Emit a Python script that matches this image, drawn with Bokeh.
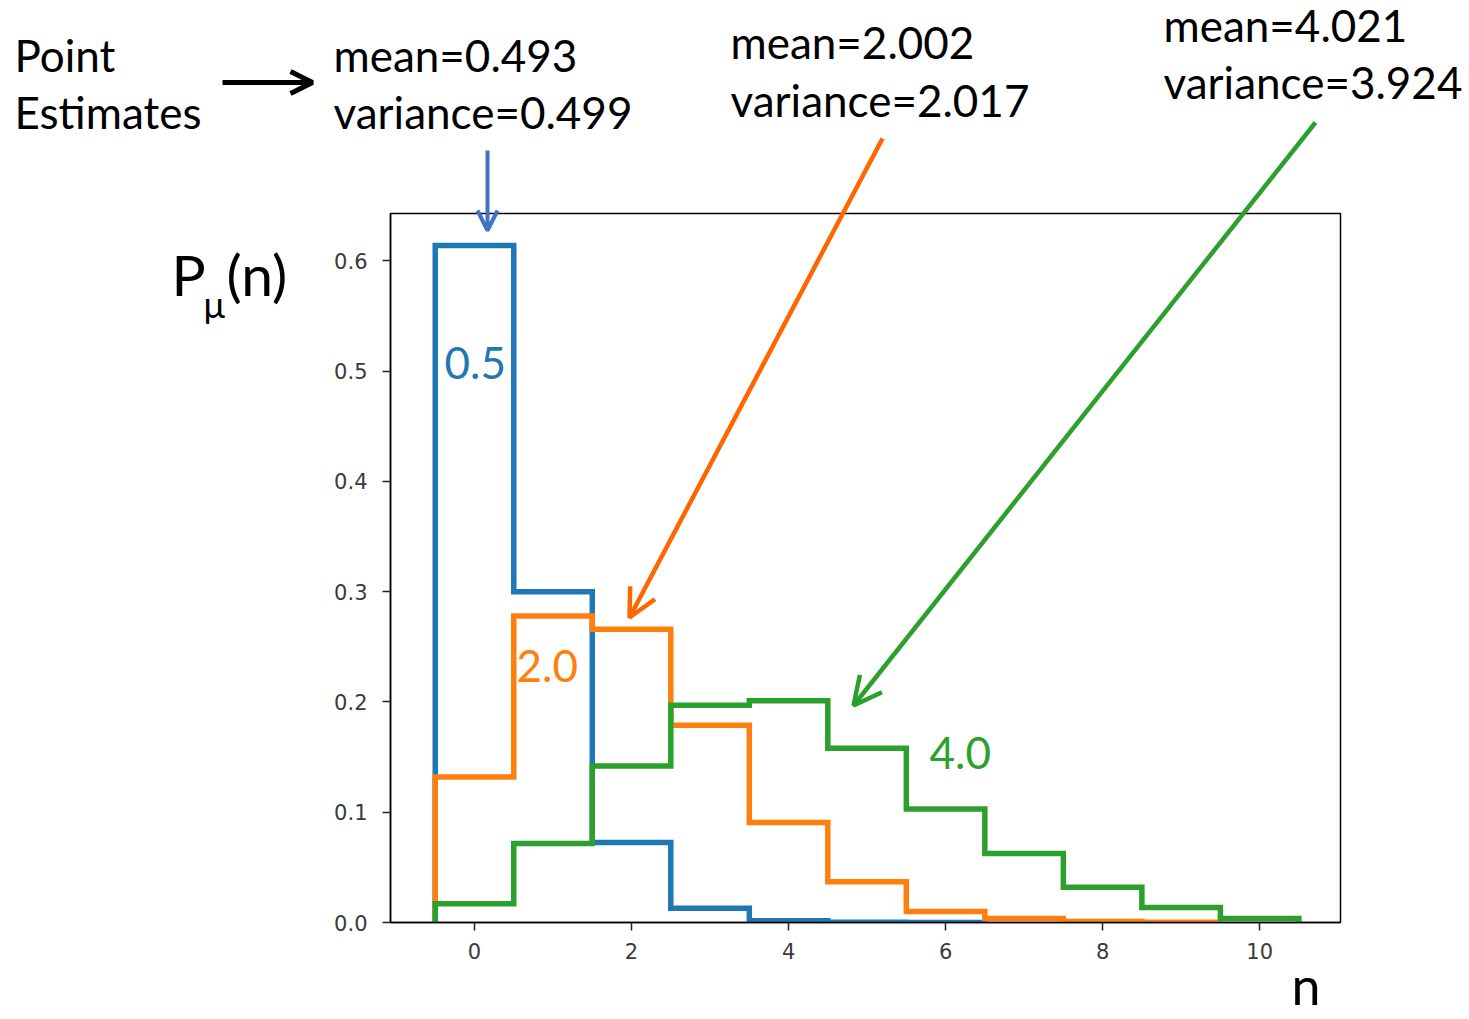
from bokeh.plotting import figure
from bokeh.models import Label, Arrow, OpenHead, FixedTicker, Range1d, NumeralTickFormatter, GridBox
from bokeh.embed import file_html
from bokeh.resources import INLINE
import numpy as np

# ---- data (histogram bin heights, bins centred on n = 0,1,2,...) ----
mu_labels = ["0.5", "2.0", "4.0"]
p_mu05 = [0.614, 0.300, 0.0725, 0.0130, 0.0017, 0.0002, 0.00002]
p_mu2 = [0.132, 0.278, 0.266, 0.179, 0.0906, 0.037, 0.010, 0.0036, 0.0010, 0.0002]
p_mu4 = [0.017, 0.0716, 0.142, 0.197, 0.201, 0.158, 0.103, 0.0625, 0.032, 0.0136, 0.0036]
means = ["0.493", "2.002", "4.021"]
variances = ["0.499", "2.017", "3.924"]
x_ticks = [0, 2, 4, 6, 8, 10]
y_ticks = [0.0, 0.1, 0.2, 0.3, 0.4, 0.5, 0.6]

colors = ["#1f77b4", "#ff7f0e", "#2ca02c"]
FONT = "Lato"

W, H = 1469, 1019
FL, FR, FT, FB = 390, 1340, 213, 922
XR = (-1.07, 11.03)
YR = (0.0, 0.643)

# ---------------- main chart ----------------
p = figure(width=W, height=H, output_backend="svg", toolbar_location=None,
           x_range=Range1d(*XR), y_range=Range1d(*YR))
p.min_border_left = FL
p.min_border_right = W - FR
p.min_border_top = FT
p.min_border_bottom = H - FB
p.background_fill_color = "white"
p.border_fill_color = "white"
p.outline_line_color = "black"
p.outline_line_width = 1.5
p.xgrid.visible = False
p.ygrid.visible = False

for ax in (p.xaxis, p.yaxis):
    ax.minor_tick_line_color = None
    ax.major_tick_out = 8
    ax.major_tick_in = 0
    ax.major_tick_line_color = "#222222"
    ax.major_tick_line_width = 1.5
    ax.axis_line_color = "black"
    ax.axis_line_width = 1.5
    ax.major_label_text_font = "DejaVu Sans"
    ax.major_label_text_font_size = "21px"
    ax.major_label_text_color = "#3a3a3a"
p.xaxis.ticker = FixedTicker(ticks=x_ticks)
p.yaxis.ticker = FixedTicker(ticks=y_ticks)
p.yaxis.formatter = NumeralTickFormatter(format="0.0")
p.xaxis.major_label_standoff = 12
p.yaxis.major_label_standoff = 15

def step_path(vals):
    edges = np.arange(len(vals) + 1) - 0.5
    xs, ys = [edges[0]], [0.0]
    for i, v in enumerate(vals):
        xs += [edges[i], edges[i + 1]]
        ys += [v, v]
    xs.append(edges[-1]); ys.append(0.0)
    return xs, ys

for vals, c in zip([p_mu05, p_mu2, p_mu4], colors):
    xs, ys = step_path(vals)
    p.line(xs, ys, line_color=c, line_width=5.5, line_join="miter")

# ---------------- overlay for annotations (pixel space) ----------------
q = figure(width=W, height=H, output_backend="svg", toolbar_location=None,
           x_range=Range1d(0, W), y_range=Range1d(H, 0),
           x_axis_type=None, y_axis_type=None)
q.min_border = 0
q.min_border_left = q.min_border_right = q.min_border_top = q.min_border_bottom = 0
q.background_fill_alpha = 0
q.border_fill_alpha = 0
q.outline_line_color = None
q.xgrid.visible = False
q.ygrid.visible = False

for fig in (p, q):
    if hasattr(fig, "frame_align"):
        fig.frame_align = False

def lab(text, px, py, size, color="black", align="left", font=FONT):
    q.add_layout(Label(x=px, y=py, text=text, text_font=font,
                       text_font_size=f"{size}px", text_color=color,
                       text_align=align, text_baseline="middle"))

lab(mu_labels[0], 444, 362, 44, colors[0])
lab(mu_labels[1], 516, 665, 44, colors[1])
lab(mu_labels[2], 929, 752, 44, colors[2])

lab("Point", 14, 54, 44)
lab("Estimates", 14, 111, 44)
lab("mean=" + means[0], 333, 54, 44)
lab("variance=" + variances[0], 333, 111, 44)
lab("mean=" + means[1], 730, 41, 44)
lab("variance=" + variances[1], 730, 99, 44)
lab("mean=" + means[2], 1163, 24, 44)
lab("variance=" + variances[2], 1163, 81, 44)

lab("P", 171, 273, 57)
lab("\u03bc", 203, 303, 36)
lab("(n)", 226, 273, 57)
lab("n", 1291, 984, 52)

def arrow(x0, y0, x1, y1, color, w, hs):
    q.add_layout(Arrow(end=OpenHead(size=hs, line_color=color, line_width=w),
                       x_start=x0, y_start=y0, x_end=x1, y_end=y1,
                       line_color=color, line_width=w))

arrow(222, 82, 312, 82, "black", 5, 22)
arrow(487, 150, 487, 230, "#4472c4", 4, 20)
arrow(882, 138, 629, 617, "#ff6600", 4.5, 28)
arrow(1315, 122, 853, 705, "#2ca02c", 4.5, 28)

grid = GridBox(children=[(p, 0, 0), (q, 0, 0)])
open("out.html", "w").write(file_html(grid, INLINE))
